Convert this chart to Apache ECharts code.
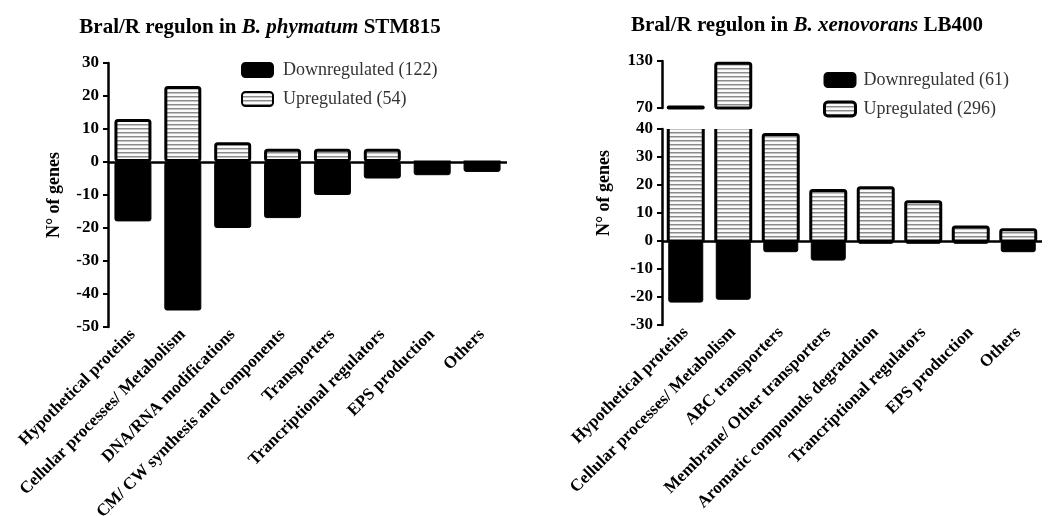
<!DOCTYPE html>
<html>
<head>
<meta charset="utf-8">
<script src="https://cdn.jsdelivr.net/npm/echarts@6/dist/echarts.min.js"></script>
<style>
html,body{margin:0;padding:0;background:#fff;}
#c{width:1055px;height:516px;}
</style>
</head>
<body>
<div id="c"></div>
<script>
// ---- data ----
var categoriesLeft = ['Hypothetical proteins','Cellular processes/ Metabolism','DNA/RNA modifications','CM/ CW synthesis and components','Transporters','Trancriptional regulators','EPS production','Others'];
var upLeft = [13, 23, 6, 4, 4, 4, 0, 0];
var downLeft = [-18, -45, -20, -17, -10, -5, -4, -3];

var categoriesRight = ['Hypothetical proteins','Cellular processes/ Metabolism','ABC transporters','Membrane/ Other transporters','Aromatic compounds degradation','Trancriptional regulators','EPS production','Others'];
var upRight = [71, 127, 38, 18, 19, 14, 5, 4];
var downRight = [-22, -21, -4, -7, -1, -1, -1, -4];

var legendLeft = ['Downregulated (122)', 'Upregulated (54)'];
var legendRight = ['Downregulated (61)', 'Upregulated (296)'];

// broken axis for the right panel: lower segment -30..40, upper segment 70..130
var BREAK_LOW = 70;

// ---- styles ----
var SERIF = "'Liberation Serif','DejaVu Serif','Times New Roman',serif";

function stripePattern() {
  var cv = document.createElement('canvas');
  cv.width = 4; cv.height = 4;
  var ctx = cv.getContext('2d');
  ctx.fillStyle = '#fafafa'; ctx.fillRect(0, 0, 4, 4);
  ctx.fillStyle = '#8a8a8a'; ctx.fillRect(0, 0, 4, 1);
  ctx.fillStyle = '#c4c4c4'; ctx.fillRect(0, 1, 4, 1);
  return {image: cv, repeat: 'repeat'};
}
var pattern = stripePattern();

var upStyle = {color: pattern, borderColor: '#000', borderWidth: 3, borderRadius: 2};
var downStyle = {color: '#000', borderColor: '#000', borderWidth: 1, borderRadius: 2};

var axisLabelY = {color: '#000', fontFamily: SERIF, fontWeight: 'bold', fontSize: 17, margin: 9};
var axisLineY = {show: true, onZero: false, lineStyle: {color: '#000', width: 2.5}};
var axisTickY = {show: true, length: 5, lineStyle: {color: '#000', width: 2}};
var xLabel = {color: '#000', fontFamily: SERIF, fontWeight: 'bold', fontSize: 17, rotate: 45, margin: 5, interval: 0};

var zeroLine = {
  silent: true, symbol: 'none', label: {show: false},
  lineStyle: {color: '#000', width: 2.5, type: 'solid'},
  data: [{yAxis: 0}]
};

var titleRich = {
  b: {fontFamily: SERIF, fontWeight: 'bold', fontSize: 21, color: '#000'},
  i: {fontFamily: SERIF, fontWeight: 'bold', fontStyle: 'italic', fontSize: 21, color: '#000'}
};

// upper-segment data: only the bars that reach the upper segment
var upperData = [];
upRight.forEach(function (v, i) { if (v > BREAK_LOW) upperData.push([i, v]); });
var lowerData = upRight.map(function (v, i) { return [i, v]; });

var RIGHT_BAR_W = 35;

function renderUpper(params, api) {
  var top = api.coord([api.value(0), api.value(1)]);
  var base = api.coord([api.value(0), BREAK_LOW]);
  var w = RIGHT_BAR_W;
  var h = Math.max(base[1] - top[1], 1);
  return {
    type: 'rect',
    shape: {x: top[0] - w / 2, y: base[1] - h, width: w, height: h, r: 2},
    style: {fill: pattern, stroke: '#000', lineWidth: 3}
  };
}

// lower segment: bars that run past the top of the segment are drawn open at the top
function renderLower(params, api) {
  var cs = params.coordSys;
  var top = api.coord([api.value(0), api.value(1)]);
  var base = api.coord([api.value(0), 0]);
  var w = RIGHT_BAR_W;
  var l = top[0] - w / 2, r = top[0] + w / 2;
  if (top[1] >= cs.y) {
    return {
      type: 'rect',
      shape: {x: l, y: top[1], width: w, height: base[1] - top[1], r: 2},
      style: {fill: pattern, stroke: '#000', lineWidth: 3}
    };
  }
  var yTop = cs.y;
  return {
    type: 'group',
    children: [
      {type: 'rect', shape: {x: l, y: yTop, width: w, height: base[1] - yTop},
       style: {fill: pattern}},
      {type: 'polyline', shape: {points: [[l, yTop], [l, base[1]], [r, base[1]], [r, yTop]]},
       style: {fill: null, stroke: '#000', lineWidth: 3}}
    ]
  };
}

var chart = echarts.init(document.getElementById('c'), null, {renderer: 'canvas'});

var option = {
  backgroundColor: '#fff',
  animation: false,
  title: [
    {text: '{b|Bral/R regulon in }{i|B. phymatum}{b| STM815}', left: 255, top: 12, textAlign: 'center', textStyle: {rich: titleRich}},
    {text: '{b|Bral/R regulon in }{i|B. xenovorans}{b| LB400}', left: 802, top: 10, textAlign: 'center', textStyle: {rich: titleRich}}
  ],
  legend: [
    {
      data: legendLeft, orient: 'vertical', left: 236, top: 56,
      itemWidth: 31, itemHeight: 14, itemGap: 11,
      textStyle: {fontFamily: SERIF, fontSize: 18, color: '#333', padding: [0, 0, 0, 5]},
      selectedMode: false
    },
    {
      data: [
        {name: legendRight[0]},
        {name: legendRight[1], icon: 'roundRect', itemStyle: {color: pattern, borderColor: '#000', borderWidth: 3}}
      ],
      orient: 'vertical', left: 818, top: 66,
      itemWidth: 31, itemHeight: 14, itemGap: 11,
      textStyle: {fontFamily: SERIF, fontSize: 18, color: '#333', padding: [0, 0, 0, 3]},
      selectedMode: false
    }
  ],
  grid: [
    {left: 108, top: 63, width: 399, height: 264, outerBoundsMode: 'none', containLabel: false},
    {left: 662, top: 129, width: 380, height: 196, outerBoundsMode: 'none', containLabel: false},
    {left: 662, top: 61, width: 380, height: 47, outerBoundsMode: 'none', containLabel: false}
  ],
  xAxis: [
    {type: 'category', gridIndex: 0, data: categoriesLeft,
     axisLine: {show: false, onZero: false}, axisTick: {show: false}, axisLabel: xLabel},
    {type: 'category', gridIndex: 1, data: categoriesRight,
     axisLine: {show: false, onZero: false}, axisTick: {show: false}, axisLabel: xLabel},
    {type: 'category', gridIndex: 2, data: categoriesRight, show: false}
  ],
  yAxis: [
    {type: 'value', gridIndex: 0, min: -50, max: 30, interval: 10,
     name: 'N° of genes', nameLocation: 'middle', nameGap: 45,
     nameTextStyle: {fontFamily: SERIF, fontWeight: 'bold', fontSize: 18, color: '#000'},
     axisLine: axisLineY, axisTick: axisTickY, axisLabel: axisLabelY, splitLine: {show: false}},
    {type: 'value', gridIndex: 1, min: -30, max: 40, interval: 10,
     axisLine: axisLineY, axisTick: axisTickY, axisLabel: axisLabelY, splitLine: {show: false}},
    {type: 'value', gridIndex: 2, min: 70, max: 130, interval: 60,
     axisLine: axisLineY, axisTick: axisTickY, axisLabel: axisLabelY, splitLine: {show: false}}
  ],
  graphic: [
    {type: 'text', x: 604, y: 193, rotation: Math.PI / 2,
     style: {text: 'N° of genes', font: 'bold 18px ' + SERIF, fill: '#000', align: 'center', verticalAlign: 'middle'}}
  ],
  series: [
    {name: legendLeft[0], type: 'bar', xAxisIndex: 0, yAxisIndex: 0, data: downLeft,
     barWidth: 37, barGap: '-100%', itemStyle: downStyle, markLine: zeroLine},
    {name: legendLeft[1], type: 'bar', xAxisIndex: 0, yAxisIndex: 0, data: upLeft,
     barWidth: 37, barGap: '-100%', itemStyle: upStyle},
    {name: legendRight[0], type: 'bar', xAxisIndex: 1, yAxisIndex: 1, data: downRight,
     barWidth: RIGHT_BAR_W, barGap: '-100%', itemStyle: downStyle, markLine: zeroLine},
    {name: legendRight[1], type: 'custom', xAxisIndex: 1, yAxisIndex: 1,
     data: lowerData, renderItem: renderLower, clip: false, silent: true,
     itemStyle: {color: pattern, borderColor: '#000', borderWidth: 3}},
    {name: 'upper segment', type: 'custom', xAxisIndex: 2, yAxisIndex: 2,
     data: upperData, renderItem: renderUpper, clip: false, silent: true}
  ]
};
chart.setOption(option);
</script>
</body>
</html>
